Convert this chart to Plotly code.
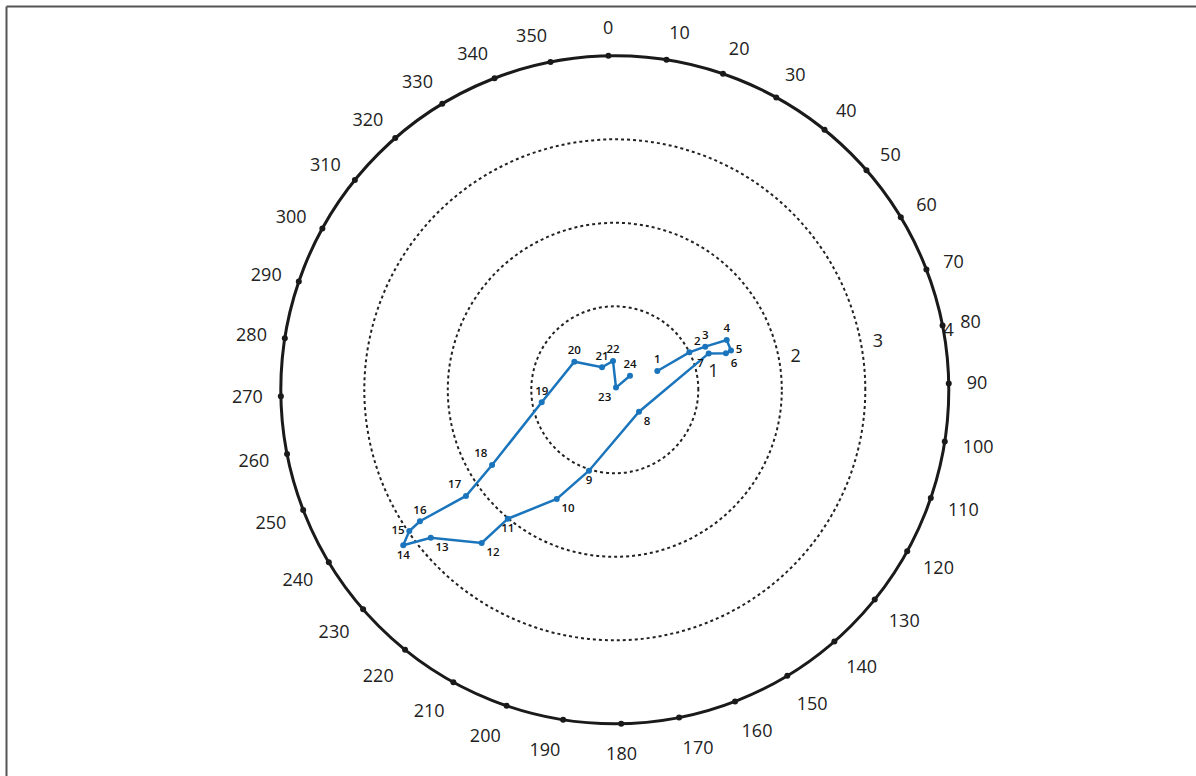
import plotly.graph_objects as go

# Data: point number, radius, angle (degrees, clockwise from north)
labels = [str(i) for i in range(1, 25)]
r_vals = [0.557, 0.999, 1.20, 1.467, 1.469, 1.401, 1.206, 0.391, 1.017, 1.481,
          2.007, 2.43, 2.828, 3.144, 2.986, 2.815, 2.189, 1.724, 0.888, 0.590,
          0.310, 0.346, 0.03, 0.248]
theta_vals = [67.2, 64.4, 65.6, 67.1, 72.4, 72.9, 69.9, 133.2, 198.8, 209.1,
              220.8, 222.1, 232.3, 234.8, 236.6, 237.1, 235.6, 239.6, 261.4, 305.9,
              331.5, 357.5, 30.0, 48.3]
text_pos = ["top center", "top right", "top center", "top center", "middle right",
            "bottom right", "bottom left", "bottom right", "bottom center", "bottom right",
            "bottom center", "bottom right", "bottom right", "bottom center", "middle left",
            "top center", "top left", "top left", "top center", "top center",
            "top center", "top center", "bottom left", "top center"]

angle_ticks = list(range(0, 360, 10))
angle_tick_text = [str(a) for a in angle_ticks]
radial_ticks = [1, 2, 3, 4]
radial_label_angle = 81
radial_label_offset = 0.2

FONT = "Open Sans"
BLUE = "#1b75bc"
R_MAX = max(radial_ticks)

fig = go.Figure()

# tick dots on outer circle
fig.add_trace(go.Scatterpolar(
    r=[R_MAX] * len(angle_ticks), theta=angle_ticks, mode="markers",
    marker=dict(size=6, color="#1a1a1a"), hoverinfo="skip", showlegend=False,
    cliponaxis=False,
))

# radial ring labels (the outermost one sits on the circle, text pushed outward)
ring_r = [v + radial_label_offset if v < R_MAX else R_MAX for v in radial_ticks]
ring_pos = ["middle center" if v < R_MAX else "middle right" for v in radial_ticks]
fig.add_trace(go.Scatterpolar(
    r=ring_r,
    theta=[radial_label_angle] * len(radial_ticks),
    mode="text", text=[str(v) for v in radial_ticks], textposition=ring_pos,
    textfont=dict(family=FONT, size=18, color="#222"),
    hoverinfo="skip", showlegend=False, cliponaxis=False,
))

fig.add_trace(go.Scatterpolar(
    r=r_vals, theta=theta_vals, mode="lines+markers+text",
    text=labels, textposition=text_pos,
    textfont=dict(family=FONT, size=11.5, color="#111", weight=600),
    line=dict(color=BLUE, width=2.5),
    marker=dict(size=6, color=BLUE),
    showlegend=False, cliponaxis=False,
))

cx, cy, R = 614.8, 389.8, 334
W, H = 1196, 776

fig.update_layout(
    width=W, height=H,
    margin=dict(l=0, r=0, t=0, b=0),
    paper_bgcolor="white",
    plot_bgcolor="white",
    font=dict(family=FONT, color="#222"),
    polar=dict(
        domain=dict(x=[(cx - R) / W, (cx + R) / W], y=[(H - cy - R) / H, (H - cy + R) / H]),
        bgcolor="white",
        angularaxis=dict(
            direction="clockwise", rotation=91.1,
            tickmode="array", tickvals=angle_ticks, ticktext=angle_tick_text,
            tickfont=dict(family=FONT, size=18, color="#222"),
            ticks="outside", ticklen=13, tickcolor="rgba(0,0,0,0)",
            showline=True, linecolor="#1a1a1a", linewidth=3,
            showgrid=False,
        ),
        radialaxis=dict(
            range=[0, R_MAX], tickmode="array", tickvals=radial_ticks,
            showticklabels=False,
            showline=False, ticks="",
            showgrid=True, gridcolor="#222", griddash="dot", gridwidth=1.5,
        ),
    ),
    shapes=[
        dict(type="line", xref="paper", yref="paper", x0=6.5 / W, x1=1.01,
             y0=1 - 6.5 / H, y1=1 - 6.5 / H, line=dict(color="#555", width=2)),
        dict(type="line", xref="paper", yref="paper", x0=6.5 / W, x1=6.5 / W,
             y0=1 - 6.5 / H, y1=-0.01, line=dict(color="#555", width=2)),
    ],
)

fig.write_html("out.html", config={"displayModeBar": False},
               post_script="document.body.style.margin='0';document.body.style.overflow='hidden';")
